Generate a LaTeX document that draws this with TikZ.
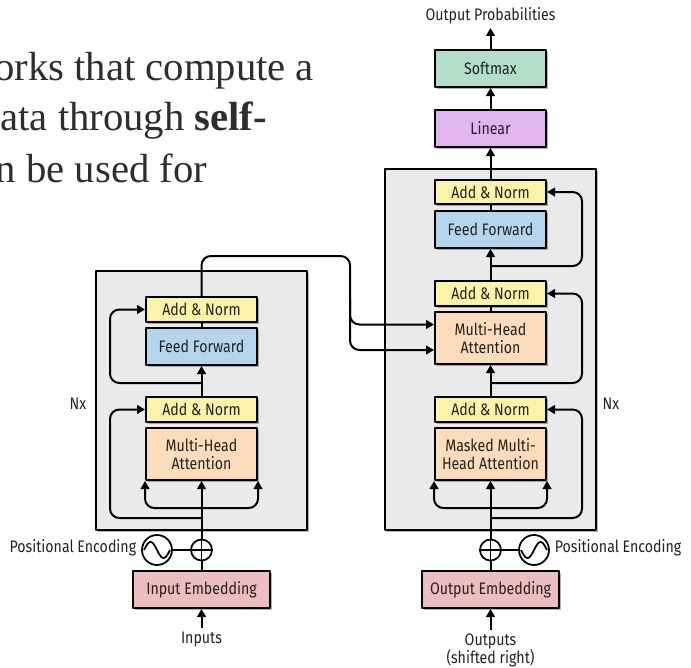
\documentclass[tikz,border=0pt]{standalone}
\usepackage{fontspec}
\setmainfont{Liberation Serif}
\newfontfamily\dfont[FakeStretch=0.85]{Fira Sans}
\usetikzlibrary{arrows.meta,shadows,calc}
\definecolor{anfill}{HTML}{FBF3A8}
\definecolor{fffill}{HTML}{B4D6EC}
\definecolor{mhafill}{HTML}{FCDCBA}
\definecolor{smfill}{HTML}{B3DFC9}
\definecolor{linfill}{HTML}{E2B4F0}
\definecolor{embfill}{HTML}{ECBCBF}
\definecolor{stackfill}{HTML}{EAEAEA}
\definecolor{txt}{HTML}{222222}
\definecolor{bodytxt}{HTML}{2E2E2E}
\begin{document}
\begin{tikzpicture}[x=0.75pt,y=-0.75pt,
  line width=1.5pt, line join=round,
  every node/.style={font=\dfont\fontsize{12.5}{13.5}\selectfont, text=txt, inner sep=0pt},
  shad/.style={drop shadow={shadow xshift=1.5pt, shadow yshift=-1.5pt, opacity=0.3, fill=black}},
  blk/.style={draw=black, line width=1.5pt, minimum width=83.25pt, align=center, shad},
  addnorm/.style={blk, fill=anfill, minimum height=18.5pt},
  ffwd/.style={blk, fill=fffill, minimum height=27.75pt},
  attn/.style={blk, fill=mhafill, minimum height=39pt},
  smx/.style={blk, fill=smfill, minimum height=27.75pt},
  lin/.style={blk, fill=linfill, minimum height=27.75pt},
  emb/.style={blk, fill=embfill, minimum height=27.75pt, minimum width=102.75pt},
  stack/.style={draw=black, line width=1.5pt, fill=stackfill, shad},
  plusc/.style={circle, draw=black, fill=white, line width=1.3pt, minimum size=15.75pt},
  sinec/.style={circle, draw=black, fill=white, line width=1.3pt, minimum size=22.5pt},
  body/.style={font=\rmfamily\fontsize{30.5}{36}\selectfont, text=bodytxt, anchor=base east},
  arr/.style={-{Triangle[length=6pt,width=6.5pt]}},
  rc/.style={rounded corners=7pt},
]
\useasboundingbox (0,0) rectangle (691,667);
\fill[white] (0,0) rectangle (691,667);

% body text of the slide behind
\node[body] (p1) at (315,80) {orks that compute a};
\node[body] (p2) at (268,130) {ata through \textbf{self-}};
\node[body] (p3) at (208,182) {n be used for};

% stacks
\node[stack, minimum width=158.25pt, minimum height=194.25pt] (eStack) at (201.5,400.5) {};
\node[stack, minimum width=158.25pt, minimum height=270.75pt] (dStack) at (490.5,349.5) {};

% encoder blocks
\node[addnorm] (eAN2) at (201.5,309.5) {Add \& Norm};
\node[ffwd] (eFF) at (201.5,346.5) {Feed Forward};
\node[addnorm] (eAN1) at (201.5,409.5) {Add \& Norm};
\node[attn] (eMHA) at (201.5,454) {Multi-Head\\Attention};
\node[emb] (eEmb) at (201.5,589.5) {Input Embedding};
\node[plusc] (eplus) at (201.5,550) {};
\node[sinec] (esine) at (157,550) {};
\node[anchor=east] (ePE) at ($(esine.west)+(-4,-2)$) {Positional Encoding};
\node (eIn) at (201.5,640) {Inputs};
\node (eNx) at (78,404) {Nx};

% decoder blocks
\node (oprob) at (490.5,16) {Output Probabilities};
\node[smx] (smax) at (490.5,68.5) {Softmax};
\node[lin] (lin) at (490.5,128.5) {Linear};
\node[addnorm] (dAN3) at (490.5,192) {Add \& Norm};
\node[ffwd] (dFF) at (490.5,229.5) {Feed Forward};
\node[addnorm] (dAN2) at (490.5,293.5) {Add \& Norm};
\node[attn] (dMHA) at (490.5,338) {Multi-Head\\Attention};
\node[addnorm] (dAN1) at (490.5,409.5) {Add \& Norm};
\node[attn] (dMMHA) at (490.5,454) {Masked Multi-\\Head Attention};
\node[emb] (dEmb) at (490.5,589.5) {Output Embedding};
\node[plusc] (dplus) at (490.5,550) {};
\node[sinec] (dsine) at (534,550) {};
\node[anchor=west] (dPE) at ($(dsine.east)+(4,-2)$) {Positional Encoding};
\node[align=center] (dOut) at (490.5,650) {Outputs\\(shifted right)};
\node (dNx) at (611,404) {Nx};

% plus signs and sine waves
\draw[line width=1.3pt] (eplus.north) -- (eplus.south) (eplus.west) -- (eplus.east);
\draw[line width=1.3pt] (dplus.north) -- (dplus.south) (dplus.west) -- (dplus.east);
\draw[line width=1.3pt, shift={(esine.center)}] plot[domain=-1:1, samples=40] ({13*\x},{8*sin(180*\x)});
\draw[line width=1.3pt, shift={(dsine.center)}] plot[domain=-1:1, samples=40] ({13*\x},{-8*sin(180*\x)});
\draw[line width=1.3pt] (eplus.west) -- (esine.east);
\draw[line width=1.3pt] (dplus.east) -- (dsine.west);

% encoder connectors
\coordinate (eU) at (201.5,508);
\coordinate (eR1) at (201.5,518);
\coordinate (eR2) at (201.5,383);
\draw[arr] ($(eIn.north)+(0,-3)$) -- (eEmb.south);
\draw (eEmb.north) -- (eplus.south);
\draw[arr] (eplus.north) -- (eMHA.south);
\draw[arr, rc] (eU) -| (eMHA.south west);
\draw[arr, rc] (eU) -| (eMHA.south east);
\draw[arr, rc] (eR1) -| ($(eAN1.west)+(-35,0)$) -- (eAN1.west);
\draw[arr] (eAN1.north) -- (eFF.south);
\draw[arr, rc] (eR2) -| ($(eAN2.west)+(-35,0)$) -- (eAN2.west);
\draw (eFF.north) -- (eAN2.south);

% encoder to decoder
\coordinate (xtop) at (350,256);
\coordinate (k0) at (350,300);
\coordinate (k1) at (350,324.5);
\coordinate (k2) at (350,350);
\draw[arr, rc] (eAN2.north) |- (xtop) -- (k1) -- (k1 -| dMHA.west);
\draw[arr, rc] (k0) -- (k2) -- (k2 -| dMHA.west);

% decoder connectors
\coordinate (dU) at (490.5,508);
\coordinate (dR1) at (490.5,518);
\coordinate (dR2) at (490.5,383);
\coordinate (dR3) at (490.5,266);
\coordinate (optip) at (490.5,28);
\draw[arr] ($(dOut.north)+(0,-2)$) -- (dEmb.south);
\draw (dEmb.north) -- (dplus.south);
\draw[arr] (dplus.north) -- (dMMHA.south);
\draw[arr, rc] (dU) -| (dMMHA.south west);
\draw[arr, rc] (dU) -| (dMMHA.south east);
\draw[arr, rc] (dR1) -| ($(dAN1.east)+(35,0)$) -- (dAN1.east);
\draw[arr] (dAN1.north) -- (dMHA.south);
\draw[arr, rc] (dR2) -| ($(dAN2.east)+(35,0)$) -- (dAN2.east);
\draw (dMHA.north) -- (dAN2.south);
\draw[arr] (dAN2.north) -- (dFF.south);
\draw[arr, rc] (dR3) -| ($(dAN3.east)+(35,0)$) -- (dAN3.east);
\draw (dFF.north) -- (dAN3.south);
\draw[arr] (dAN3.north) -- (lin.south);
\draw[arr] (lin.north) -- (smax.south);
\draw[arr] (smax.north) -- (optip);
\end{tikzpicture}
\end{document}
